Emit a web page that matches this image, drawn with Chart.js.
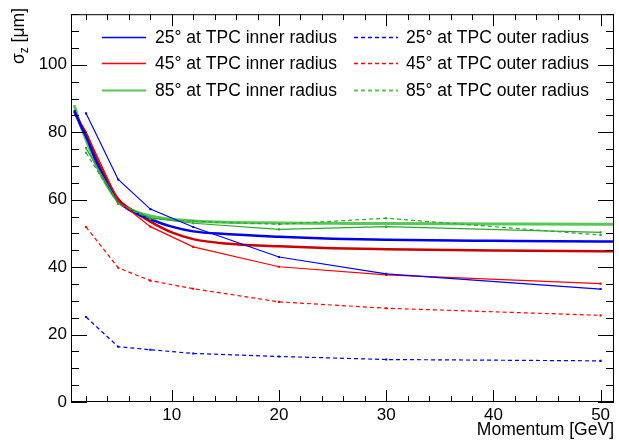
<!DOCTYPE html>
<html><head><meta charset="utf-8">
<script src="https://cdn.jsdelivr.net/npm/chart.js@4/dist/chart.umd.min.js"></script>
<style>html,body{margin:0;padding:0;background:#fff;}</style>
</head><body>
<canvas id="c" width="619" height="441"></canvas>
<script>
// ---- data ----
const momenta = [2, 5, 8, 12, 20, 30, 50];
const blueInner  = [85.6, 66.0, 57.2, 51.9, 43.0, 38.0, 33.5];
const blueOuter  = [25.2, 16.4, 15.5, 14.4, 13.5, 12.6, 12.2];
const redInner   = [80.0, 59.6, 52.0, 46.0, 40.1, 37.7, 35.1];
const redOuter   = [51.9, 39.8, 36.0, 33.6, 29.7, 27.8, 25.7];
const greenInner = [75.3, 59.0, 54.6, 53.0, 51.2, 52.0, 50.3];
const greenOuter = [73.9, 58.7, 54.3, 53.6, 52.7, 54.5, 49.5];

const fitMomenta = [0.9, 1.5, 2, 3, 4, 5, 6, 8, 10, 12, 15, 20, 25, 30, 40, 50, 51.25];
const fitGreen = [88.0, 82.0, 77.8, 70.0, 64.0, 59.5, 57.3, 55.2, 54.2, 53.7, 53.3, 53.1, 53.0, 52.9, 52.8, 52.7, 52.7];
const fitBlue  = [86.5, 82.0, 78.8, 71.0, 64.6, 59.6, 57.0, 54.2, 52.0, 50.6, 49.8, 49.0, 48.4, 48.1, 47.8, 47.6, 47.6];
const fitRed   = [86.0, 82.5, 79.7, 72.0, 65.7, 60.2, 57.5, 53.5, 50.3, 48.3, 47.0, 46.2, 45.6, 45.3, 44.9, 44.7, 44.7];

const seriesLabels = ['25\u00b0 at TPC inner radius', '25\u00b0 at TPC outer radius',
                      '45\u00b0 at TPC inner radius', '45\u00b0 at TPC outer radius',
                      '85\u00b0 at TPC inner radius', '85\u00b0 at TPC outer radius'];
const xTicks = [10, 20, 30, 40, 50];
const yTicks = [0, 20, 40, 60, 80, 100];
const xRange = [0.6, 51.25];
const yRange = [0, 115];

// ---- styling ----
const FONT = "'Liberation Sans', Arial, Helvetica, sans-serif";
Chart.defaults.font.family = FONT;
Chart.defaults.color = '#000';

const BLUE = '#0000ff', RED = '#ff0000', GREEN = '#2ea82e', GREEN_L = '#55c855';
const DASH = [4, 3];
const legendStyle = [
  {color: BLUE, width: 1.5, dashed: false},
  {color: BLUE, width: 1.5, dashed: true},
  {color: RED, width: 1.5, dashed: false},
  {color: RED, width: 1.5, dashed: true},
  {color: GREEN_L, width: 2, dashed: false},
  {color: GREEN_L, width: 2, dashed: true}
];
const pts = (xs, ys) => xs.map((x, i) => ({x, y: ys[i]}));

function dataLine(label, ys, color, dashed) {
  return {
    label, data: pts(momenta, ys), borderColor: color, backgroundColor: color,
    borderWidth: 1.2, borderDash: dashed ? DASH : [], pointStyle: 'rect',
    pointRadius: 1.5, pointBorderWidth: 0, tension: 0
  };
}
function fitLine(ys, color, w) {
  return {
    label: '', data: pts(fitMomenta, ys), borderColor: color, borderWidth: w,
    pointRadius: 0, cubicInterpolationMode: 'monotone'
  };
}

const datasets = [
  dataLine(seriesLabels[0], blueInner, BLUE, false),
  dataLine(seriesLabels[1], blueOuter, BLUE, true),
  dataLine(seriesLabels[2], redInner, RED, false),
  dataLine(seriesLabels[3], redOuter, RED, true),
  dataLine(seriesLabels[4], greenInner, GREEN, false),
  dataLine(seriesLabels[5], greenOuter, GREEN, true),
  fitLine(fitBlue, '#0000ee', 2.5),
  fitLine(fitRed, '#cc0000', 2.5),
  fitLine(fitGreen, GREEN_L, 3)
];

// ---- plugin: ROOT-like frame, inner ticks, legend, y title ----
const rootStyle = {
  id: 'rootStyle',
  afterDatasetsDraw(chart) {
    const {ctx, chartArea: a, scales: {x, y}} = chart;
    ctx.save();
    ctx.strokeStyle = '#000';
    ctx.lineWidth = 1;
    ctx.setLineDash([]);
    ctx.strokeRect(a.left + 0.5, a.top + 0.5, a.right - a.left - 1, a.bottom - a.top - 1);
    ctx.beginPath();
    for (let v = 2; v <= xRange[1]; v += 2) {
      const px = Math.round(x.getPixelForValue(v)) + 0.5;
      const len = (v % 10 === 0) ? 12 : 6;
      ctx.moveTo(px, a.bottom); ctx.lineTo(px, a.bottom - len);
      ctx.moveTo(px, a.top); ctx.lineTo(px, a.top + len);
    }
    for (let v = 0; v <= yRange[1]; v += 5) {
      const py = Math.round(y.getPixelForValue(v)) + 0.5;
      const len = (v % 20 === 0) ? 16 : 8;
      ctx.moveTo(a.left, py); ctx.lineTo(a.left + len, py);
      ctx.moveTo(a.right, py); ctx.lineTo(a.right - len, py);
    }
    ctx.stroke();

    // legend (two columns, three rows)
    const cols = [{x1: 102, x2: 146, tx: 155}, {x1: 354, x2: 398, tx: 406}];
    const rows = [37, 63, 90];
    seriesLabels.forEach((lab, i) => {
      const c = cols[i % 2], ry = rows[Math.floor(i / 2)], st = legendStyle[i];
      ctx.fillStyle = st.color;
      const top = ry + 0.5 - st.width / 2;
      if (st.dashed) {
        for (let sx = c.x1; sx < c.x2; sx += 7) {
          ctx.fillRect(sx, top, Math.min(4, c.x2 - sx), st.width);
        }
      } else {
        ctx.fillRect(c.x1, top, c.x2 - c.x1, st.width);
      }
    });
    ctx.font = "17.5px " + FONT;
    ctx.textBaseline = 'middle';
    ctx.textAlign = 'left';
    ctx.fillStyle = '#000';
    seriesLabels.forEach((lab, i) => {
      const c = cols[i % 2], ry = rows[Math.floor(i / 2)];
      ctx.fillText(lab, c.tx, ry + 1);
    });

    // y-axis title: sigma_z [um], rotated, aligned to the top
    ctx.translate(24, 8);
    ctx.rotate(-Math.PI / 2);
    ctx.textBaseline = 'alphabetic';
    const big = "17.5px " + FONT, small = "12px " + FONT;
    ctx.font = big; const w1 = ctx.measureText('\u03c3').width;
    ctx.font = small; const w2 = ctx.measureText('z').width;
    ctx.font = big; const w3 = ctx.measureText(' [\u03bcm]').width;
    let sx = -(w1 + w2 + w3);
    ctx.font = big; ctx.fillText('\u03c3', sx, 0); sx += w1;
    ctx.font = small; ctx.fillText('z', sx, 4); sx += w2;
    ctx.font = big; ctx.fillText(' [\u03bcm]', sx, 0);
    ctx.restore();
  }
};

new Chart(document.getElementById('c'), {
  type: 'line',
  data: {datasets},
  options: {
    responsive: false, animation: false, devicePixelRatio: 1,
    layout: {padding: {top: 10, right: 5, left: 0, bottom: 0}},
    plugins: {legend: {display: false}, tooltip: {enabled: false}},
    scales: {
      x: {
        type: 'linear', min: xRange[0], max: xRange[1],
        grid: {display: false, drawTicks: false}, border: {display: false},
        afterBuildTicks: s => { s.ticks = xTicks.map(v => ({value: v})); },
        afterFit: s => { s.height = 39; },
        ticks: {font: {size: 17}, padding: 3, maxRotation: 0, autoSkip: false, color: '#000'},
        title: {display: true, text: 'Momentum [GeV]', align: 'end', font: {size: 17.5}, padding: {top: 0, bottom: 0}, color: '#000'}
      },
      y: {
        type: 'linear', min: yRange[0], max: yRange[1],
        grid: {display: false, drawTicks: false}, border: {display: false},
        afterBuildTicks: s => { s.ticks = yTicks.map(v => ({value: v})); },
        afterFit: s => { s.width = 71; },
        ticks: {font: {size: 17}, padding: 4, autoSkip: false, color: '#000'}
      }
    }
  },
  plugins: [rootStyle]
});
</script>
</body></html>
